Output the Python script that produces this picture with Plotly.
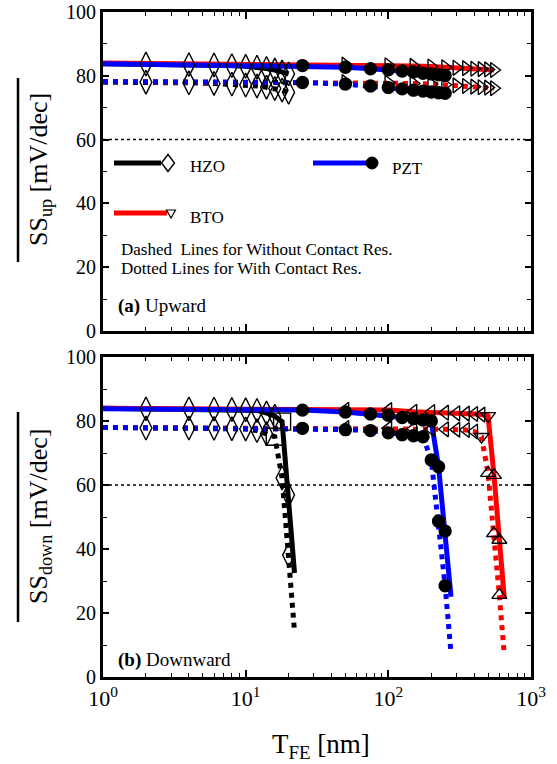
import plotly.graph_objects as go

# ---------------- data ----------------
# (a) Upward
x_hzo_up = [1, 2, 4, 6, 8, 10, 12, 14, 16, 18, 20]
hzo_up_wo = [83.8, 83.7, 83.5, 83.4, 83.2, 83.0, 82.7, 82.3, 81.8, 81.2, 80.6]
hzo_up_w = [78.0, 78.0, 77.8, 77.6, 77.4, 77.1, 76.8, 76.4, 76.0, 75.5, 74.8]

x_pzt_up = [1, 25, 50, 75, 100, 125, 150, 175, 200, 225, 250]
pzt_up_wo = [83.8, 83.2, 82.7, 82.2, 81.9, 81.5, 81.2, 80.8, 80.6, 80.3, 80.1]
pzt_up_w = [78.2, 77.9, 77.4, 76.8, 76.3, 75.9, 75.5, 75.2, 74.9, 74.7, 74.5]

x_bto_up = [1, 50, 100, 150, 200, 250, 300, 350, 400, 450, 500, 550]
bto_up_wo = [84.0, 83.5, 83.3, 83.1, 82.9, 82.7, 82.5, 82.4, 82.2, 82.1, 82.0, 81.8]
bto_up_w = [78.2, 78.0, 77.8, 77.6, 77.4, 77.2, 77.0, 76.8, 76.6, 76.4, 76.3, 76.1]

# (b) Downward
x_hzo_dn = [1, 2, 4, 6, 8, 10, 12, 14, 16, 18, 20, 22]
hzo_dn_wo = [84.0, 83.8, 83.8, 83.7, 83.6, 83.5, 83.3, 82.5, 81.5, 79.8, 56.9, 32.5]
hzo_dn_w = [78.0, 77.8, 77.8, 77.7, 77.6, 77.5, 77.0, 76.0, 75.1, 62.2, 38.1, 14.2]

x_pzt_dn = [1, 25, 50, 75, 100, 125, 150, 175, 200, 225, 250, 275]
pzt_dn_wo = [83.8, 83.4, 82.8, 82.2, 81.8, 81.1, 80.7, 80.3, 80.0, 65.7, 45.6, 25.1]
pzt_dn_w = [78.0, 77.7, 77.3, 77.0, 76.3, 75.7, 75.4, 75.1, 67.8, 48.7, 28.5, 7.5]

x_bto_dn = [1, 50, 100, 150, 200, 250, 300, 350, 400, 450, 500, 550, 600, 650]
bto_dn_wo = [84.0, 83.5, 83.4, 82.9, 82.8, 82.6, 82.4, 82.3, 82.2, 82.0, 81.6, 63.1, 42.8, 24.6]
bto_dn_w = [78.0, 77.8, 77.7, 77.6, 77.5, 77.4, 77.3, 77.2, 76.7, 75.1, 63.7, 44.9, 25.6, 6.9]

ref_level = 60
x_tick_vals = [1, 10, 100, 1000]
x_tick_text = ["10<sup>0</sup>", "10<sup>1</sup>", "10<sup>2</sup>", "10<sup>3</sup>"]

# ---------------- styling ----------------
BLACK, BLUE, RED = "#000000", "#0000FF", "#FF0000"
SERIF = "Liberation Serif"
LW = 5

# pixel helpers for layout elements (plot area 103..531 x 12..677)
def PX(px):
    return (px - 103) / 428.0

def PY(py):
    return (677 - py) / 665.0

fig = go.Figure()

def add_line(x, y, color, dash, xa, ya):
    fig.add_trace(go.Scatter(x=x, y=y, mode="lines", xaxis=xa, yaxis=ya,
                             line=dict(color=color, width=LW, dash=dash),
                             showlegend=False, hoverinfo="skip"))

def add_markers(x, y, idx, symbols, xa, ya, size, fill, lw=1.4):
    xs = [x[i] for i in idx]
    ys = [y[i] for i in idx]
    if isinstance(symbols, str):
        symbols = [symbols] * len(idx)
    fig.add_trace(go.Scatter(x=xs, y=ys, mode="markers", xaxis=xa, yaxis=ya,
                             marker=dict(symbol=symbols, size=size, color=fill,
                                         line=dict(color=BLACK, width=lw)),
                             showlegend=False, hoverinfo="skip"))

# ----- top panel lines
add_line(x_hzo_up, hzo_up_wo, BLACK, "solid", "x", "y")
add_line(x_hzo_up, hzo_up_w, BLACK, "dot", "x", "y")
add_line(x_bto_up, bto_up_wo, RED, "solid", "x", "y")
add_line(x_bto_up, bto_up_w, RED, "dot", "x", "y")
add_line(x_pzt_up, pzt_up_wo, BLUE, "solid", "x", "y")
add_line(x_pzt_up, pzt_up_w, BLUE, "dot", "x", "y")
# ----- top panel markers
add_markers(x_hzo_up, hzo_up_wo, range(1, len(x_hzo_up)), "diamond-tall-open", "x", "y", 17, BLACK)
add_markers(x_hzo_up, hzo_up_w, range(1, len(x_hzo_up)), "diamond-tall-open", "x", "y", 17, BLACK)
add_markers(x_bto_up, bto_up_wo, range(1, len(x_bto_up)), "triangle-right-open", "x", "y", 13, BLACK)
add_markers(x_bto_up, bto_up_w, range(1, len(x_bto_up)), "triangle-right-open", "x", "y", 13, BLACK)
add_markers(x_pzt_up, pzt_up_wo, range(1, len(x_pzt_up)), "circle", "x", "y", 12, BLACK)
add_markers(x_pzt_up, pzt_up_w, range(1, len(x_pzt_up)), "circle", "x", "y", 12, BLACK)

# ----- bottom panel lines
add_line(x_hzo_dn, hzo_dn_wo, BLACK, "solid", "x2", "y2")
add_line(x_hzo_dn, hzo_dn_w, BLACK, "dot", "x2", "y2")
add_line(x_bto_dn, bto_dn_wo, RED, "solid", "x2", "y2")
add_line(x_bto_dn, bto_dn_w, RED, "dot", "x2", "y2")
add_line(x_pzt_dn, pzt_dn_wo, BLUE, "solid", "x2", "y2")
add_line(x_pzt_dn, pzt_dn_w, BLUE, "dot", "x2", "y2")
# ----- bottom panel markers
hzo_wo_sym = ["diamond-tall-open"] * 8 + ["square-open", "diamond-tall-open"]
add_markers(x_hzo_dn, hzo_dn_wo, range(1, 11), hzo_wo_sym, "x2", "y2", 17, BLACK)
hzo_w_sym = ["diamond-tall-open"] * 7 + ["square-open", "diamond-tall-open", "diamond-tall-open"]
add_markers(x_hzo_dn, hzo_dn_w, range(1, 11), hzo_w_sym, "x2", "y2", 17, BLACK)
bto_wo_sym = ["triangle-left-open"] * 9 + ["triangle-down-open", "triangle-up-open", "triangle-up-open"]
add_markers(x_bto_dn, bto_dn_wo, range(1, 13), bto_wo_sym, "x2", "y2", 13, BLACK)
bto_w_sym = ["triangle-left-open"] * 8 + ["triangle-down-open", "triangle-up-open", "triangle-up-open", "triangle-up-open"]
add_markers(x_bto_dn, bto_dn_w, range(1, 13), bto_w_sym, "x2", "y2", 13, BLACK)
add_markers(x_pzt_dn, pzt_dn_wo, range(1, 11), "circle", "x2", "y2", 12, BLACK)
add_markers(x_pzt_dn, pzt_dn_w, range(1, 11), "circle", "x2", "y2", 12, BLACK)

# ---------------- axes ----------------
common_x = dict(type="log", range=[0, 3], showline=True, linewidth=3, linecolor=BLACK,
                mirror="ticks", ticks="inside", ticklen=7, tickwidth=1.5, tickcolor=BLACK,
                tickvals=x_tick_vals, showgrid=False, zeroline=False, automargin=False,
                minor=dict(ticks="inside", ticklen=4, tickwidth=1.2, tickcolor=BLACK,
                           dtick="D1", showgrid=False))
common_y = dict(range=[0, 100], showline=True, linewidth=3, linecolor=BLACK,
                mirror="ticks", ticks="inside", ticklen=6, tickwidth=1.5, tickcolor=BLACK,
                tickvals=[0, 20, 40, 60, 80, 100], showgrid=False, zeroline=False,
                automargin=False,
                tickfont=dict(family=SERIF, size=20, color=BLACK),
                minor=dict(ticks="inside", ticklen=4, tickwidth=1.2, tickcolor=BLACK,
                           dtick=10, showgrid=False))

top_dom = [PY(331), 1.0]
bot_dom = [0.0, PY(357)]

fig.update_layout(
    width=557, height=764,
    margin=dict(l=103, r=26, t=12, b=87, autoexpand=False),
    paper_bgcolor="white", plot_bgcolor="white",
    showlegend=False,
    xaxis=dict(common_x, anchor="y", showticklabels=False),
    yaxis=dict(common_y, domain=top_dom, anchor="x"),
    xaxis2=dict(common_x, anchor="y2", ticktext=x_tick_text,
                tickfont=dict(family=SERIF, size=22, color=BLACK)),
    yaxis2=dict(common_y, domain=bot_dom, anchor="x2"),
)

# reference dotted line at 60 in both panels
for xr, yr in (("x domain", "y"), ("x2 domain", "y2")):
    fig.add_shape(type="line", xref=xr, yref=yr, x0=0, x1=1, y0=ref_level, y1=ref_level,
                  line=dict(color=BLACK, width=1.5, dash="dot"), layer="below")

# ---------------- legend (top panel) ----------------
shapes = []
shapes.append(dict(type="line", xref="paper", yref="paper", x0=PX(114), x1=PX(161),
                   y0=PY(163), y1=PY(163), line=dict(color=BLACK, width=5)))
shapes.append(dict(type="line", xref="paper", yref="paper", x0=PX(313), x1=PX(368),
                   y0=PY(163), y1=PY(163), line=dict(color=BLUE, width=5)))
shapes.append(dict(type="line", xref="paper", yref="paper", x0=PX(114), x1=PX(167),
                   y0=PY(213), y1=PY(213), line=dict(color=RED, width=5)))
# diamond symbol
cx, cy, hw, hh = 168, 163, 6.5, 8.5
shapes.append(dict(type="path", xref="paper", yref="paper",
                   path=f"M {PX(cx-hw)},{PY(cy)} L {PX(cx)},{PY(cy-hh)} L {PX(cx+hw)},{PY(cy)} L {PX(cx)},{PY(cy+hh)} Z",
                   fillcolor="white", line=dict(color=BLACK, width=1.4)))
# filled circle
shapes.append(dict(type="circle", xref="paper", yref="paper",
                   x0=PX(366), x1=PX(378), y0=PY(169), y1=PY(157),
                   fillcolor=BLACK, line=dict(color=BLACK, width=1)))
# small downward triangle
tx, ty = 171, 214
shapes.append(dict(type="path", xref="paper", yref="paper",
                   path=f"M {PX(tx-4.5)},{PY(ty-4)} L {PX(tx+4.5)},{PY(ty-4)} L {PX(tx)},{PY(ty+4)} Z",
                   fillcolor="white", line=dict(color=BLACK, width=1.2)))
# overlines of y-axis titles
shapes.append(dict(type="line", xref="paper", yref="paper", x0=PX(18), x1=PX(18),
                   y0=PY(78), y1=PY(262), line=dict(color=BLACK, width=2.5)))
shapes.append(dict(type="line", xref="paper", yref="paper", x0=PX(18), x1=PX(18),
                   y0=PY(412), y1=PY(622), line=dict(color=BLACK, width=2.5)))
for s in shapes:
    fig.add_shape(**s)

def ann(text, px, py, size, xanchor="left", angle=0):
    fig.add_annotation(text=text, xref="paper", yref="paper", x=PX(px), y=PY(py),
                       xanchor=xanchor, yanchor="middle", showarrow=False, textangle=angle,
                       font=dict(family=SERIF, size=size, color=BLACK))

ann("HZO", 188, 166, 17)
ann("PZT", 390, 168, 17)
ann("BTO", 188, 217, 17)
ann("Dashed\u00a0 Lines for Without Contact Res.", 119, 249, 17)
ann("Dotted Lines for With Contact Res.", 119, 268, 17)
ann("<b>(a)</b> Upward", 116, 306, 19)
ann("<b>(b)</b> Downward", 116, 660, 19)
ann("SS<sub>up</sub> [mV/dec]", 40, 170, 26, xanchor="center", angle=-90)
ann("SS<sub>down</sub> [mV/dec]", 40, 517, 26, xanchor="center", angle=-90)
ann("T<sub>FE</sub> [nm]", 321, 746, 27, xanchor="center")

fig.write_html("out.html", config={"displayModeBar": False},
               post_script="document.body.style.margin='0';document.body.style.overflow='hidden';")
